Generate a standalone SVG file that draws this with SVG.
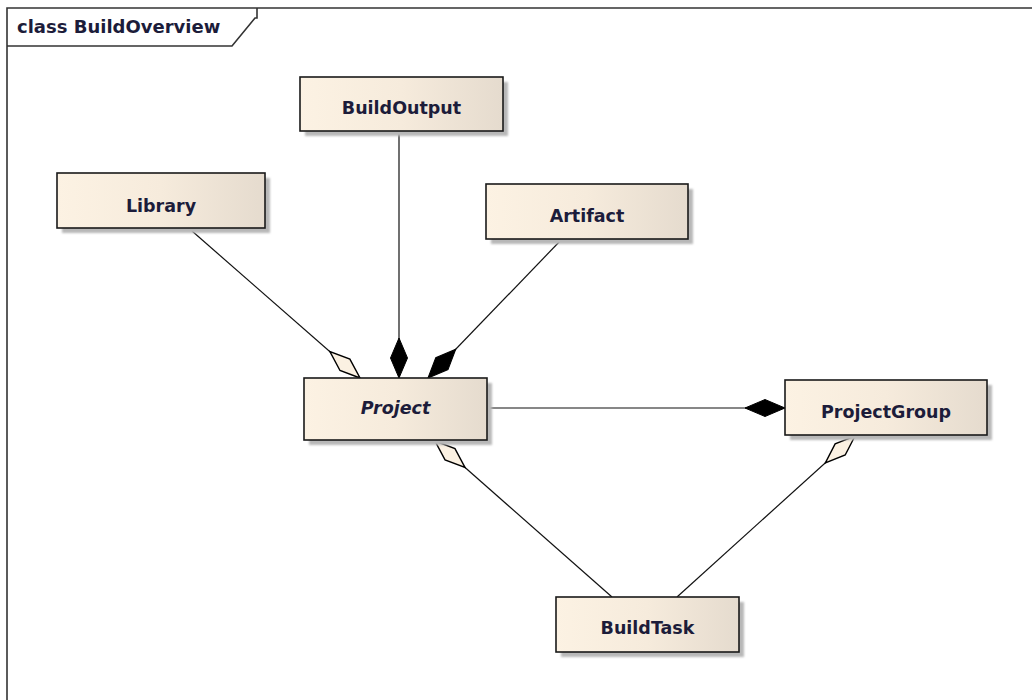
<svg xmlns="http://www.w3.org/2000/svg" width="1032" height="700" viewBox="0 0 1032 700">
  <style>
    .box { fill: url(#boxFill); stroke: #1a1a1a; stroke-width: 1.6; }
    .shadow { fill: #b8b8b8; filter: url(#soft); }
    .label { font-family: "DejaVu Sans", Verdana, sans-serif; font-size: 17.5px; font-weight: bold; fill: #1c1c3a; text-anchor: middle; }
    .frame { fill: none; stroke: #333; stroke-width: 1.6; }
    .edge { fill: none; stroke: #111; stroke-width: 1.2; }
  </style>
  <defs>
    <linearGradient id="boxFill" x1="0" y1="0" x2="1" y2="0">
      <stop offset="0" stop-color="#fcf2e3"/>
      <stop offset="0.5" stop-color="#f6ebdc"/>
      <stop offset="1" stop-color="#e5dbce"/>
    </linearGradient>
    <filter id="soft" x="-10%" y="-10%" width="120%" height="120%">
      <feGaussianBlur stdDeviation="1"/>
    </filter>
    <!-- composition: filled diamond at the whole end -->
    <marker id="composite" markerUnits="userSpaceOnUse" markerWidth="44" markerHeight="20" refX="1" refY="9" orient="auto" overflow="visible">
      <path d="M1,9 L21,0.5 L41,9 L21,17.5 Z" fill="#000" stroke="#000" stroke-width="1"/>
    </marker>
    <!-- aggregation: hollow diamond at the whole end -->
    <marker id="aggregate" markerUnits="userSpaceOnUse" markerWidth="44" markerHeight="20" refX="1" refY="9" orient="auto" overflow="visible">
      <path d="M1,9 L21,1.5 L41,9 L21,16.5 Z" fill="#fbf1e2" stroke="#000" stroke-width="1.4"/>
    </marker>
  </defs>

  <rect width="1032" height="700" fill="#fff"/>

  <!-- diagram frame with name tab -->
  <g id="frame">
    <path class="frame" d="M7,700 L7,8 L1032,8"/>
    <path class="frame" d="M7,46 L232,46 L255,18 L257,18 L257,8"/>
    <text x="17" y="33" font-family="'DejaVu Sans', Verdana, sans-serif" font-size="18" font-weight="bold" fill="#1c1c3a">class BuildOverview</text>
  </g>

  <!-- associations -->
  <g id="connectors">
    <path class="edge" d="M399,378 L399,132" marker-start="url(#composite)"/>
    <path class="edge" d="M428,378 L562,239" marker-start="url(#composite)"/>
    <path class="edge" d="M360,378 L192,231" marker-start="url(#aggregate)"/>
    <path class="edge" d="M785,408 L487,408" marker-start="url(#composite)"/>
    <path class="edge" d="M435,441 L612,597" marker-start="url(#aggregate)"/>
    <path class="edge" d="M855,436 L677,597" marker-start="url(#aggregate)"/>
  </g>

  <g id="BuildOutput">
    <rect class="shadow" x="305" y="82" width="203" height="54"/>
    <rect class="box" x="300" y="77" width="203" height="54"/>
    <text class="label" x="401.5" y="114">BuildOutput</text>
  </g>

  <g id="Library">
    <rect class="shadow" x="62" y="178" width="208" height="55"/>
    <rect class="box" x="57" y="173" width="208" height="55"/>
    <text class="label" x="161" y="212">Library</text>
  </g>

  <g id="Artifact">
    <rect class="shadow" x="491" y="189" width="202" height="55"/>
    <rect class="box" x="486" y="184" width="202" height="55"/>
    <text class="label" x="587" y="222">Artifact</text>
  </g>

  <g id="Project">
    <rect class="shadow" x="309" y="383" width="183" height="62"/>
    <rect class="box" x="304" y="378" width="183" height="62"/>
    <text class="label" x="395.5" y="414" font-style="italic">Project</text>
  </g>

  <g id="ProjectGroup">
    <rect class="shadow" x="790" y="385" width="202" height="55"/>
    <rect class="box" x="785" y="380" width="202" height="55"/>
    <text class="label" x="886" y="418">ProjectGroup</text>
  </g>

  <g id="BuildTask">
    <rect class="shadow" x="561" y="602" width="183" height="55"/>
    <rect class="box" x="556" y="597" width="183" height="55"/>
    <text class="label" x="647.5" y="634">BuildTask</text>
  </g>
</svg>
